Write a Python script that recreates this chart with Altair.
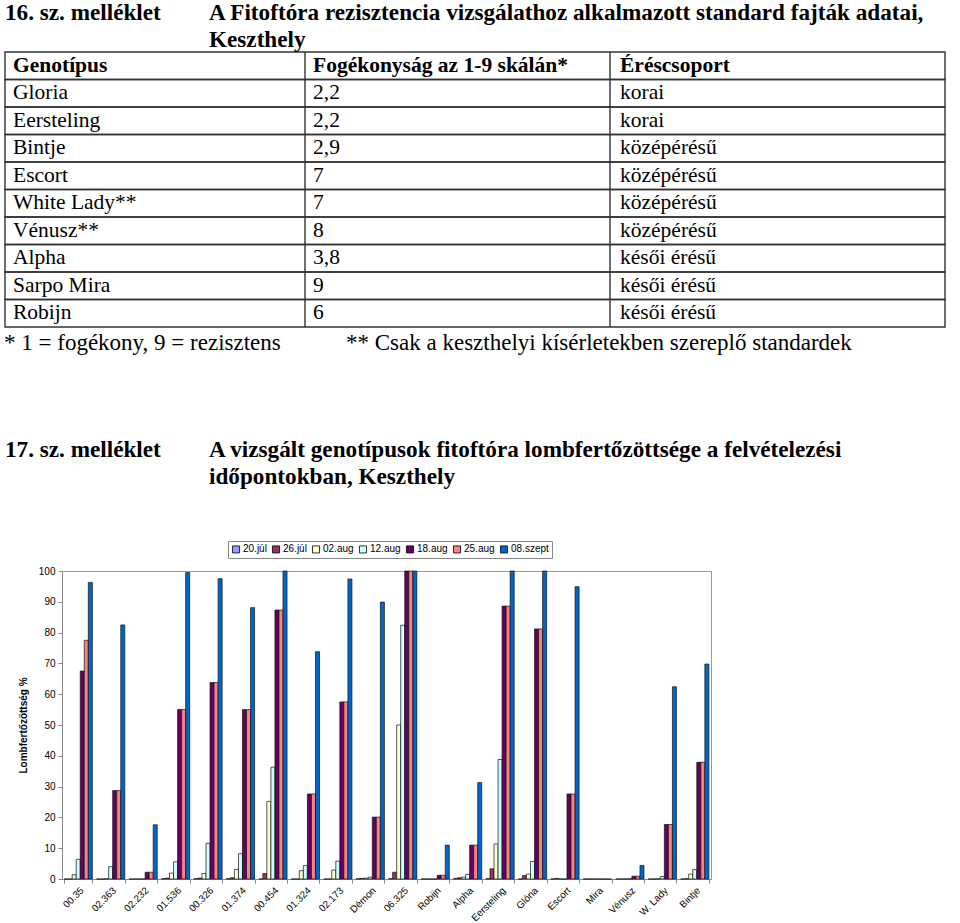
import altair as alt
import pandas as pd

# ---------------- data ----------------
categories = ["00.35", "02.363", "02.232", "01.536", "00.326", "01.374", "00.454",
              "01.324", "02.173", "Démon", "06.325", "Robijn", "Alpha", "Eersteling",
              "Glória", "Escort", "Mira", "Vénusz", "W. Lady", "Bintje"]
series = ["20.júl", "26.júl", "02.aug", "12.aug", "18.aug", "25.aug", "08.szept"]
colors = ["#9999FF", "#993366", "#FFFFCC", "#CCFFFF", "#660066", "#FF8080", "#0066CC"]

jul20 = [0, 0, 0, 0.1, 0.1, 0.1, 0, 0, 0, 0.1, 0.1, 0, 0.2, 0.1, 0, 0, 0, 0, 0, 0]
jul26 = [0, 0, 0, 0.3, 0.3, 0.4, 1.8, 0, 0, 0.2, 2.2, 0, 0.4, 3.3, 1.1, 0.2, 0, 0, 0, 0.1]
aug02 = [1.4, 0.1, 0, 1.9, 1.8, 3.1, 25.2, 2.7, 2.9, 0.3, 50, 0, 0.6, 11.4, 1.6, 0, 0, 0, 0.1, 1.6]
aug12 = [6.4, 4.0, 0, 5.6, 11.6, 8.2, 36.3, 4.4, 5.8, 0.6, 82.4, 0, 1.5, 38.8, 5.7, 0, 0, 0.1, 0.8, 3.1]
aug18 = [67.5, 28.7, 2.2, 55, 63.8, 55, 87.3, 27.6, 57.5, 20.1, 100, 1.2, 11, 88.6, 81.2, 27.6, 0, 0.9, 17.7, 37.9]
aug25 = [77.5, 28.7, 2.2, 55, 63.8, 55, 87.3, 27.6, 57.5, 20.1, 100, 1.2, 11, 88.6, 81.2, 27.6, 0, 0.9, 17.7, 37.9]
szept08 = [96.3, 82.5, 17.6, 99.5, 97.5, 88.1, 100, 73.8, 97.4, 89.9, 100, 11.0, 31.3, 100, 100, 94.9, 0, 4.4, 62.4, 69.8]
y_ticks = [0, 10, 20, 30, 40, 50, 60, 70, 80, 90, 100]

table_header = ["Genotípus", "Fogékonyság az 1-9 skálán*", "Éréscsoport"]
genotypes = ["Gloria", "Eersteling", "Bintje", "Escort", "White Lady**", "Vénusz**",
             "Alpha", "Sarpo Mira", "Robijn"]
scores = ["2,2", "2,2", "2,9", "7", "7", "8", "3,8", "9", "6"]
groups = ["korai", "korai", "középérésű", "középérésű", "középérésű", "középérésű",
          "késői érésű", "késői érésű", "késői érésű"]

title16_a = "16. sz. melléklet"
title16_b = "A Fitoftóra rezisztencia vizsgálathoz alkalmazott standard fajták adatai,"
title16_c = "Keszthely"
note_1 = "* 1 = fogékony, 9 = rezisztens"
note_2 = "** Csak a keszthelyi kísérletekben szereplő standardek"
title17_a = "17. sz. melléklet"
title17_b = "A vizsgált genotípusok fitoftóra lombfertőzöttsége a felvételezési"
title17_c = "időpontokban, Keszthely"

# ---------------- layout (page pixels) ----------------
PL, PT = 62, 571          # plot area origin on the page
PW, PH = 649, 308         # plot area size
SERIF = "Liberation Serif"
SANS = "Liberation Sans"

rows = []
for s, vals in zip(series, [jul20, jul26, aug02, aug12, aug18, aug25, szept08]):
    for c, v in zip(categories, vals):
        rows.append({"Genotípus": c, "Időpont": s, "Lombfertőzöttség": v})
bars_df = pd.DataFrame(rows)

bars = alt.Chart(bars_df).mark_bar(stroke="#111111", strokeWidth=0.7).encode(
    x=alt.X("Genotípus:N", sort=categories,
            scale=alt.Scale(paddingInner=0.13, paddingOuter=0.065),
            axis=alt.Axis(title=None, labelAngle=-45, labelAlign="right", labelBaseline="top",
                          labelFont=SANS, labelFontSize=9.8, labelColor="black",
                          labelPadding=2, tickBand="extent", tickSize=4, tickColor="#888888",
                          domainColor="#888888", grid=False, labelOverlap=False)),
    xOffset=alt.XOffset("Időpont:N", sort=series,
                        scale=alt.Scale(paddingInner=0, paddingOuter=0)),
    y=alt.Y("Lombfertőzöttség:Q", scale=alt.Scale(domain=[0, 100], nice=False),
            axis=alt.Axis(title="Lombfertőzöttség %", values=y_ticks,
                          labelFont=SANS, labelFontSize=10, labelColor="black",
                          labelPadding=3, tickSize=4, tickColor="#888888",
                          domainColor="#888888", gridColor="#9a9a9a",
                          titleFont=SANS, titleFontSize=10, titleFontWeight="bold",
                          titleColor="black", titlePadding=10)),
    color=alt.Color("Időpont:N", sort=series,
                    scale=alt.Scale(domain=series, range=colors),
                    legend=alt.Legend(title=None, orient="none", legendX=166, legendY=-30,
                                      direction="horizontal", strokeColor="#888888",
                                      fillColor="white", padding=3, symbolType="square",
                                      symbolSize=50, symbolStrokeColor="black",
                                      symbolStrokeWidth=0.8, labelFont=SANS,
                                      labelFontSize=10, labelColor="black",
                                      labelOffset=2, columnPadding=3)),
)

# ---------------- table ----------------
TABLE_TOP, TABLE_BOTTOM = 52, 327
n_rows = len(genotypes) + 1
row_scale = alt.Scale(domain=[0, n_rows], range=[TABLE_TOP - PT, TABLE_BOTTOM - PT], nice=False, zero=False)

table_df = pd.DataFrame({
    "sor": list(range(n_rows)),
    "g": [table_header[0]] + genotypes,
    "f": [table_header[1]] + scores,
    "e": [table_header[2]] + groups,
})

cells = alt.Chart(table_df).transform_calculate(
    bot="datum.sor + 1"
).mark_rect(fillOpacity=0, stroke="#333333", strokeWidth=1.4).encode(
    x=alt.value(5 - PL), x2=alt.value(945 - PL),
    y=alt.Y("sor:Q", scale=row_scale, axis=None),
    y2="bot:Q",
)

def vline(xpix):
    return alt.Chart(pd.DataFrame({"a": [0]})).mark_rule(color="#333333", strokeWidth=1.4).encode(
        x=alt.value(xpix - PL), y=alt.value(TABLE_TOP - PT), y2=alt.value(TABLE_BOTTOM - PT))

def col_text(field, xpix, bold):
    data = table_df[table_df["sor"] == 0] if bold else table_df[table_df["sor"] > 0]
    return alt.Chart(data).transform_calculate(
        mid="datum.sor + 0.5"
    ).mark_text(align="left", baseline="middle", font=SERIF, fontSize=21.5,
                fontWeight="bold" if bold else "normal", color="black").encode(
        x=alt.value(xpix - PL),
        y=alt.Y("mid:Q", scale=row_scale, axis=None),
        text=f"{field}:N",
    )

def page_text(txt, xpix, ypix, size, bold):
    return alt.Chart(pd.DataFrame({"t": [txt]})).mark_text(
        align="left", baseline="middle", font=SERIF, fontSize=size,
        fontWeight="bold" if bold else "normal", color="black").encode(
        x=alt.value(xpix - PL), y=alt.value(ypix - PT), text="t:N")

layers = [
    cells, vline(305), vline(610),
    col_text("g", 13, True), col_text("f", 313, True), col_text("e", 620, True),
    col_text("g", 13, False), col_text("f", 313, False), col_text("e", 620, False),
    page_text(title16_a, 5, 13, 23.2, True),
    page_text(title16_b, 209, 13, 23.2, True),
    page_text(title16_c, 209, 40, 23.2, True),
    page_text(note_1, 4, 343, 23, False),
    page_text(note_2, 346, 343, 23, False),
    page_text(title17_a, 5, 450, 23.2, True),
    page_text(title17_b, 209, 450, 23.2, True),
    page_text(title17_c, 209, 477, 23.2, True),
    bars,
]

chart = alt.layer(*layers).resolve_scale(y="independent").properties(
    width=PW, height=PH,
    padding={"left": PL, "top": PT, "right": 960 - PL - PW, "bottom": 923 - PT - PH},
    autosize=alt.AutoSizeParams(type="none"),
    background="white",
).configure_view(stroke="#999999", strokeWidth=1)

chart.save("out.html", embed_options={"renderer": "svg", "actions": False})
